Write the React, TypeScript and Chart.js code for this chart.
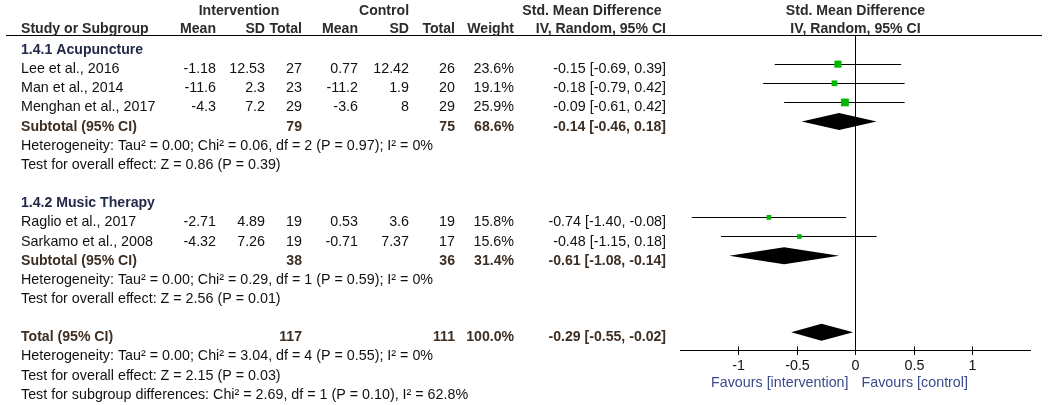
import React, { useEffect, useRef } from "react";
import { Chart, registerables } from "chart.js";

Chart.register(...registerables);

// ---------- DATA ----------
const studies = [
  "Lee et al., 2016",
  "Man et al., 2014",
  "Menghan et al., 2017",
  "Raglio et al., 2017",
  "Sarkamo et al., 2008",
];
const studyRows = [1, 2, 3, 9, 10];
const intMean = [-1.18, -11.6, -4.3, -2.71, -4.32];
const intSD = [12.53, 2.3, 7.2, 4.89, 7.26];
const intTotal = [27, 23, 29, 19, 19];
const ctlMean = [0.77, -11.2, -3.6, 0.53, -0.71];
const ctlSD = [12.42, 1.9, 8, 3.6, 7.37];
const ctlTotal = [26, 20, 29, 19, 17];
const weights = [23.6, 19.1, 25.9, 15.8, 15.6];
const smd = [-0.15, -0.18, -0.09, -0.74, -0.48];
const ciLow = [-0.69, -0.79, -0.61, -1.4, -1.15];
const ciHigh = [0.39, 0.42, 0.42, -0.08, 0.18];

const groupLabels = ["1.4.1 Acupuncture", "1.4.2 Music Therapy"];
const groupRows = [0, 8];

const summaryLabels = ["Subtotal (95% CI)", "Subtotal (95% CI)", "Total (95% CI)"];
const summaryRows = [4, 11, 15];
const summaryIntTotal = [79, 38, 117];
const summaryCtlTotal = [75, 36, 111];
const summaryWeight = [68.6, 31.4, 100.0];
const summarySmd = [-0.14, -0.61, -0.29];
const summaryLow = [-0.46, -1.08, -0.55];
const summaryHigh = [0.18, -0.14, -0.02];

const noteLines = [
  "Heterogeneity: Tau\u00b2 = 0.00; Chi\u00b2 = 0.06, df = 2 (P = 0.97); I\u00b2 = 0%",
  "Test for overall effect: Z = 0.86 (P = 0.39)",
  "Heterogeneity: Tau\u00b2 = 0.00; Chi\u00b2 = 0.29, df = 1 (P = 0.59); I\u00b2 = 0%",
  "Test for overall effect: Z = 2.56 (P = 0.01)",
  "Heterogeneity: Tau\u00b2 = 0.00; Chi\u00b2 = 3.04, df = 4 (P = 0.55); I\u00b2 = 0%",
  "Test for overall effect: Z = 2.15 (P = 0.03)",
  "Test for subgroup differences: Chi\u00b2 = 2.69, df = 1 (P = 0.10), I\u00b2 = 62.8%",
];
const noteRows = [5, 6, 12, 13, 16, 17, 18];

const xTicks = [-1, -0.5, 0, 0.5, 1];
const xTickLabels = ["-1", "-0.5", "0", "0.5", "1"];
const favoursLabels = ["Favours [intervention]", "Favours [control]"];

// ---------- STYLE / LAYOUT ----------
const FONT = '"Liberation Sans", Arial, sans-serif';
const COL = { name: 21, im: 216, isd: 265, itot: 302, cm: 358, csd: 409, ctot: 455, w: 514, ci: 666 };
const TEXT = "#111111";
const HEAD = "#2b2b2b";
const GROUP = "#232a48";
const SUMM = "#3e2e22";
const FAV = "#3a4a8c";
const GREEN = "#00b800";

const fmtCI = (e: number, l: number, h: number) =>
  `${e.toFixed(2)} [${l.toFixed(2)}, ${h.toFixed(2)}]`;
const crisp = (v: number) => Math.floor(v) + 0.5;

function drawText(
  ctx: CanvasRenderingContext2D,
  s: string,
  x: number,
  y: number,
  align: CanvasTextAlign,
  bold: boolean,
  color: string
) {
  ctx.font = bold ? `bold 14.1px ${FONT}` : `14.3px ${FONT}`;
  ctx.fillStyle = color;
  ctx.textAlign = align;
  ctx.textBaseline = "alphabetic";
  ctx.fillText(s, x, y);
}

const forestPlugin = {
  id: "forest",
  beforeDatasetsDraw(chart: any) {
    const { ctx, chartArea, scales } = chart;
    const xs = scales.x;
    const ys = scales.y;
    ctx.save();
    ctx.strokeStyle = "#000";
    ctx.lineWidth = 1;
    // header rule
    ctx.beginPath();
    ctx.moveTo(6, crisp(chartArea.top));
    ctx.lineTo(1042, crisp(chartArea.top));
    ctx.stroke();
    // zero line
    const x0 = crisp(xs.getPixelForValue(0));
    ctx.beginPath();
    ctx.moveTo(x0, chartArea.top);
    ctx.lineTo(x0, chartArea.bottom);
    ctx.stroke();
    // CI lines
    ctx.lineWidth = 1.2;
    studies.forEach((_, i) => {
      const py = crisp(ys.getPixelForValue(studyRows[i]));
      ctx.beginPath();
      ctx.moveTo(xs.getPixelForValue(ciLow[i]), py);
      ctx.lineTo(xs.getPixelForValue(ciHigh[i]), py);
      ctx.stroke();
    });
    ctx.restore();
  },
  afterDatasetsDraw(chart: any) {
    const { ctx, chartArea, scales } = chart;
    const xs = scales.x;
    const ys = scales.y;
    ctx.save();
    // diamonds
    ctx.fillStyle = "#000";
    summaryRows.forEach((r, i) => {
      const py = ys.getPixelForValue(r);
      ctx.beginPath();
      ctx.moveTo(xs.getPixelForValue(summaryLow[i]), py);
      ctx.lineTo(xs.getPixelForValue(summarySmd[i]), py - 8.5);
      ctx.lineTo(xs.getPixelForValue(summaryHigh[i]), py);
      ctx.lineTo(xs.getPixelForValue(summarySmd[i]), py + 8.5);
      ctx.closePath();
      ctx.fill();
    });
    // axis
    const ay = crisp(chartArea.bottom - 1);
    ctx.strokeStyle = "#000";
    ctx.lineWidth = 1;
    ctx.beginPath();
    ctx.moveTo(chartArea.left, ay);
    ctx.lineTo(chartArea.right, ay);
    ctx.stroke();
    xTicks.forEach((t, i) => {
      const px = crisp(xs.getPixelForValue(t));
      ctx.beginPath();
      ctx.moveTo(px, ay - 4);
      ctx.lineTo(px, ay + 4.5);
      ctx.stroke();
      drawText(ctx, xTickLabels[i], px, 370, "center", false, TEXT);
    });
    const x0 = xs.getPixelForValue(0);
    drawText(ctx, favoursLabels[0], x0 - 7, 387, "right", false, FAV);
    drawText(ctx, favoursLabels[1], x0 + 6, 387, "left", false, FAV);

    // right header
    drawText(ctx, "Std. Mean Difference", x0, 15, "center", true, HEAD);
    drawText(ctx, "IV, Random, 95% CI", x0, 32.5, "center", true, HEAD);

    // left table headers
    drawText(ctx, "Intervention", 239, 15, "center", true, HEAD);
    drawText(ctx, "Control", 384, 15, "center", true, HEAD);
    drawText(ctx, "Std. Mean Difference", 592, 15, "center", true, HEAD);
    drawText(ctx, "Study or Subgroup", COL.name, 32.5, "left", true, HEAD);
    drawText(ctx, "Mean", COL.im, 32.5, "right", true, HEAD);
    drawText(ctx, "SD", COL.isd, 32.5, "right", true, HEAD);
    drawText(ctx, "Total", COL.itot, 32.5, "right", true, HEAD);
    drawText(ctx, "Mean", COL.cm, 32.5, "right", true, HEAD);
    drawText(ctx, "SD", COL.csd, 32.5, "right", true, HEAD);
    drawText(ctx, "Total", COL.ctot, 32.5, "right", true, HEAD);
    drawText(ctx, "Weight", COL.w, 32.5, "right", true, HEAD);
    drawText(ctx, "IV, Random, 95% CI", COL.ci, 32.5, "right", true, HEAD);

    const base = (r: number) => ys.getPixelForValue(r) + 9;

    groupLabels.forEach((g, i) => {
      drawText(ctx, g, COL.name, base(groupRows[i]), "left", true, GROUP);
    });
    studies.forEach((s, i) => {
      const by = base(studyRows[i]);
      drawText(ctx, s, COL.name, by, "left", false, TEXT);
      drawText(ctx, String(intMean[i]), COL.im, by, "right", false, TEXT);
      drawText(ctx, String(intSD[i]), COL.isd, by, "right", false, TEXT);
      drawText(ctx, String(intTotal[i]), COL.itot, by, "right", false, TEXT);
      drawText(ctx, String(ctlMean[i]), COL.cm, by, "right", false, TEXT);
      drawText(ctx, String(ctlSD[i]), COL.csd, by, "right", false, TEXT);
      drawText(ctx, String(ctlTotal[i]), COL.ctot, by, "right", false, TEXT);
      drawText(ctx, weights[i].toFixed(1) + "%", COL.w, by, "right", false, TEXT);
      drawText(ctx, fmtCI(smd[i], ciLow[i], ciHigh[i]), COL.ci, by, "right", false, TEXT);
    });
    summaryLabels.forEach((s, i) => {
      const by = base(summaryRows[i]);
      drawText(ctx, s, COL.name, by, "left", true, SUMM);
      drawText(ctx, String(summaryIntTotal[i]), COL.itot, by, "right", true, SUMM);
      drawText(ctx, String(summaryCtlTotal[i]), COL.ctot, by, "right", true, SUMM);
      drawText(ctx, summaryWeight[i].toFixed(1) + "%", COL.w, by, "right", true, SUMM);
      drawText(
        ctx,
        fmtCI(summarySmd[i], summaryLow[i], summaryHigh[i]),
        COL.ci,
        by,
        "right",
        true,
        SUMM
      );
    });
    noteLines.forEach((n, i) => {
      drawText(ctx, n, COL.name, base(noteRows[i]), "left", false, TEXT);
    });
    ctx.restore();
  },
};

export default function App() {
  const ref = useRef<HTMLCanvasElement | null>(null);

  useEffect(() => {
    if (!ref.current) return;
    const chart = new Chart(ref.current, {
      type: "scatter",
      data: {
        datasets: [
          {
            label: "Studies",
            data: studies.map((_, i) => ({ x: smd[i], y: studyRows[i] })),
            pointStyle: "rect",
            pointRadius: weights.map((w) => (w * 0.3) / Math.SQRT2),
            pointHoverRadius: weights.map((w) => (w * 0.3) / Math.SQRT2),
            backgroundColor: GREEN,
            borderWidth: 0,
          },
        ],
      },
      options: {
        animation: false,
        responsive: false,
        devicePixelRatio: 1,
        events: [],
        layout: { padding: { left: 680, right: 19, top: 35, bottom: 54 } },
        plugins: { legend: { display: false }, tooltip: { enabled: false } },
        scales: {
          x: { type: "linear", min: -1.5, max: 1.5, display: false },
          y: { type: "linear", min: -0.522, max: 15.979, reverse: true, display: false },
        },
      },
      plugins: [forestPlugin],
    });
    return () => chart.destroy();
  }, []);

  return (
    <div style={{ position: "absolute", left: 0, top: 0, width: 1050, height: 405, background: "#fff" }}>
      <canvas ref={ref} width={1050} height={405} />
    </div>
  );
}
